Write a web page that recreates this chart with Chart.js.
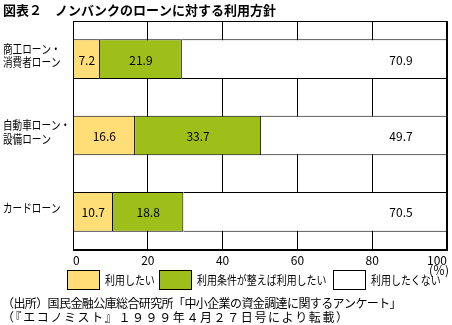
<!DOCTYPE html>
<html><head><meta charset="utf-8">
<script src="https://cdn.jsdelivr.net/npm/chart.js@4"></script>
<style>html,body{margin:0;padding:0;background:#fff;overflow:hidden}canvas{display:block}</style>
</head><body>
<canvas id="c" width="452" height="325"></canvas>
<script>
// ---- data ----
const categories = [['商工ローン・', '消費者ローン'], ['自動車ローン・', '設備ローン'], ['カードローン']];
const seriesNames = ['利用したい', '利用条件が整えば利用したい', '利用したくない'];
const wantToUse = [7.2, 16.6, 10.7];
const ifConditionsMet = [21.9, 33.7, 18.8];
const doNotWant = [70.9, 49.7, 70.5];
const xTickValues = [0, 20, 40, 60, 80, 100];
const chartTitle = '図表２　ノンバンクのローンに対する利用方針';
const unitLabel = '(％)';
const sourceLines = [
  '（出所）国民金融公庫総合研究所「中小企業の資金調達に関するアンケート」',
  '（『エコノミスト』１９９９年４月２７日号により転載）'
];
// ---- styles ----
const colors = ['#FFDD77', '#9EBE1A', '#FFFFFF'];
const FONT = '"Noto Sans CJK JP", "Noto Sans", sans-serif';

function txt(c, s, x, y, spacing, sx) {
  c.save();
  c.translate(x, y);
  c.scale(sx || 1, 1);
  c.letterSpacing = (spacing || 0) + 'px';
  c.fillText(s, 0, 0);
  c.restore();
}

const decor = {
  id: 'decor',
  beforeDraw(chart) {
    const c = chart.ctx;
    c.save(); c.fillStyle = '#fff'; c.fillRect(0, 0, chart.width, chart.height); c.restore();
  },
  afterDatasetsDraw(chart) {
    const c = chart.ctx, a = chart.chartArea;
    c.save();
    // frame
    c.strokeStyle = '#000'; c.lineWidth = 1;
    const l = Math.round(a.left) + 0.5, r = Math.round(a.right) - 0.5,
          t = Math.round(a.top) + 0.5, b = Math.round(a.bottom) - 0.5;
    c.strokeRect(l, t, r - l, b - t);
    // value labels
    c.fillStyle = '#000'; c.font = '12px ' + FONT;
    c.textAlign = 'center'; c.textBaseline = 'middle';
    chart.data.datasets.forEach((ds, di) => {
      chart.getDatasetMeta(di).data.forEach((el, i) => {
        const v = ds.data[i];
        let x = (el.x + el.base) / 2;
        if (di === 2) x = Math.max(el.x, el.base) - 46;
        c.fillText(v.toFixed(1), x, el.y + 1);
      });
    });
    c.restore();
  },
  afterDraw(chart) {
    const c = chart.ctx;
    c.save();
    c.fillStyle = '#000';
    c.textBaseline = 'middle';
    // title
    c.font = 'bold 13px ' + FONT; c.textAlign = 'left';
    txt(c, chartTitle, 3, 10);
    // category labels (positions from the y scale)
    const ys = chart.scales.y;
    c.font = '12px ' + FONT;
    chart.data.labels.forEach((lab, i) => {
      const lines = Array.isArray(lab) ? lab : [lab];
      const cy = ys.getPixelForValue(i) - 3;
      lines.forEach((s, k) => {
        txt(c, s, 3, cy + (k - (lines.length - 1) / 2) * 13.5, 0, 0.8);
      });
    });
    // unit
    c.font = '12px ' + FONT; c.textAlign = 'right';
    txt(c, unitLabel, 449, 270);
    // legend
    c.textAlign = 'left';
    const boxX = [67, 159, 333];
    chart.data.datasets.forEach((ds, i) => {
      const x = boxX[i];
      c.fillStyle = ds.backgroundColor;
      c.fillRect(x, 270, 33, 20);
      c.strokeStyle = '#000'; c.lineWidth = 1;
      c.strokeRect(x + 0.5, 270.5, 32, 19);
      c.fillStyle = '#000';
      txt(c, ds.label, x + 38, 280, 0, 0.83);
    });
    // source
    c.font = '12px ' + FONT;
    txt(c, sourceLines[0], 2, 303.5, -0.6);
    txt(c, sourceLines[1], 2, 317.5, 1.6);
    c.restore();
  }
};

new Chart(document.getElementById('c'), {
  type: 'bar',
  data: {
    labels: categories,
    datasets: [
      { label: seriesNames[0], data: wantToUse, backgroundColor: colors[0] },
      { label: seriesNames[1], data: ifConditionsMet, backgroundColor: colors[1] },
      { label: seriesNames[2], data: doNotWant, backgroundColor: colors[2] }
    ].map(d => Object.assign(d, {
      borderColor: '#000', borderWidth: 1, borderSkipped: 'left',
      categoryPercentage: 1, barPercentage: 0.52
    }))
  },
  options: {
    indexAxis: 'y',
    responsive: false,
    animation: false,
    devicePixelRatio: 1,
    layout: { padding: { left: 3, right: 5, top: 21, bottom: 55 } },
    plugins: { legend: { display: false }, title: { display: false }, tooltip: { enabled: false } },
    scales: {
      x: {
        stacked: true, min: 0, max: 100,
        afterBuildTicks(s) { s.ticks = xTickValues.map(v => ({ value: v })); },
        afterFit(s) { s.height = 20; },
        grid: { color: '#000', lineWidth: 1, drawTicks: false },
        border: { display: true, color: '#000' },
        ticks: { color: '#000', padding: 3, align: 'inner', maxRotation: 0, autoSkip: false,
                 font: { family: FONT, size: 12 } }
      },
      y: {
        stacked: true,
        afterFit(s) { s.width = 70; },
        grid: { display: false, drawTicks: false },
        border: { display: true, color: '#000' },
        ticks: { display: false }
      }
    }
  },
  plugins: [decor]
});
</script>
</body></html>
